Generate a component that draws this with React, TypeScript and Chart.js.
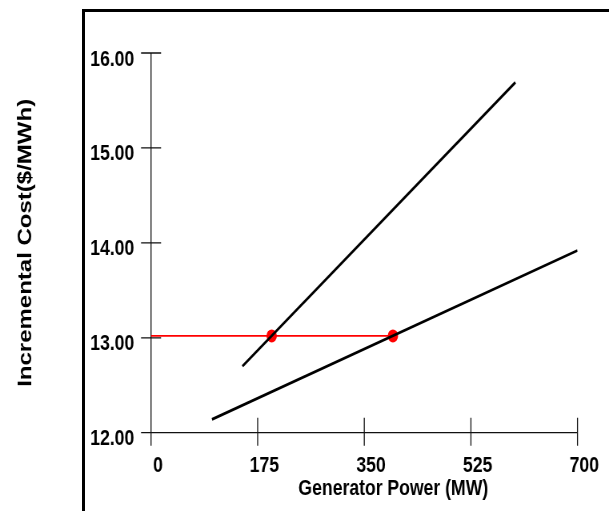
import React, { useEffect, useRef } from "react";
import { Chart, registerables } from "chart.js";

Chart.register(...registerables);

// ---- data ----
const xTickValues = [0, 175, 350, 525, 700];
const yTickValues = [12, 13, 14, 15, 16];
const unitA_MW = [150, 598];
const unitA_cost = [12.7, 15.69];
const unitB_MW = [100, 700];
const unitB_cost = [12.14, 13.92];
const lambdaCost = 13.02;
const dispatchMW = [0, 198, 397];
const dispatchCost = [lambdaCost, lambdaCost, lambdaCost];
const xTitle = "Generator Power (MW)";
const yTitle = "Incremental Cost($/MWh)";

// The reference is a horizontally compressed picture; draw on a wider canvas
// and let CSS squeeze it to 609px.
const SQUEEZE = 0.8;
const CANVAS_W = 761;
const CANVAS_H = 511;

const FONT = "'Liberation Sans', Arial, sans-serif";

const axesPlugin = {
  id: "crossAxes",
  beforeDatasetsDraw(chart: any) {
    const { ctx, scales } = chart;
    const x = scales.x;
    const y = scales.y;
    const x0 = x.getPixelForValue(xTickValues[0]);
    const yb = y.getPixelForValue(yTickValues[0]);
    const yt = y.getPixelForValue(yTickValues[yTickValues.length - 1]);
    const xr = x.getPixelForValue(xTickValues[xTickValues.length - 1]);
    ctx.save();
    ctx.strokeStyle = "#111";
    ctx.lineWidth = 1.3;
    ctx.beginPath();
    ctx.moveTo(x0, yt);
    ctx.lineTo(x0, yb + 13);
    for (const v of yTickValues) {
      const p = y.getPixelForValue(v);
      ctx.moveTo(x0 - 12.5, p);
      ctx.lineTo(x0 + 12.5, p);
    }
    ctx.moveTo(x0 - 12.5, yb);
    ctx.lineTo(xr, yb);
    for (const v of xTickValues) {
      const p = x.getPixelForValue(v);
      ctx.moveTo(p, yb - 15);
      ctx.lineTo(p, yb + 13);
    }
    ctx.stroke();
    ctx.restore();
  },
  afterDraw(chart: any) {
    const { ctx, chartArea } = chart;
    ctx.save();
    ctx.font = "bold 22px " + FONT;
    ctx.fillStyle = "#000";
    ctx.textAlign = "center";
    ctx.textBaseline = "alphabetic";
    ctx.fillText(
      xTitle,
      chartArea.left + (chartArea.right - chartArea.left) * 0.568,
      chartArea.bottom + 62
    );
    ctx.restore();
  },
};

export default function App() {
  const ref = useRef<HTMLCanvasElement | null>(null);

  useEffect(() => {
    if (!ref.current) return;
    const chart = new Chart(ref.current, {
      type: "line",
      data: {
        datasets: [
          {
            label: "Unit A",
            data: unitA_MW.map((m, i) => ({ x: m, y: unitA_cost[i] })),
            borderColor: "#000",
            borderWidth: 2.8,
            pointRadius: 0,
            fill: false,
          },
          {
            label: "Unit B",
            data: unitB_MW.map((m, i) => ({ x: m, y: unitB_cost[i] })),
            borderColor: "#000",
            borderWidth: 2.8,
            pointRadius: 0,
            fill: false,
          },
          {
            label: "Lambda",
            data: dispatchMW.map((m, i) => ({ x: m, y: dispatchCost[i] })),
            borderColor: "#ff0000",
            borderWidth: 1.6,
            pointRadius: [0, 6.5, 6.5],
            pointStyle: "circle",
            pointBorderWidth: 0,
            pointBackgroundColor: "#ff0000",
            pointBorderColor: "#ff0000",
            fill: false,
          },
        ],
      },
      options: {
        animation: false,
        responsive: false,
        devicePixelRatio: 1,
        layout: { padding: { top: 53, right: CANVAS_W - 577.3 / SQUEEZE, left: 0, bottom: 0 } },
        plugins: {
          legend: { display: false },
          tooltip: { enabled: false },
          title: { display: false },
        },
        scales: {
          x: {
            type: "linear",
            min: 0,
            max: 700,
            afterBuildTicks: (s: any) => {
              s.ticks = xTickValues.map((v) => ({ value: v }));
            },
            afterFit: (s: any) => {
              s.height = 78.3;
              s.paddingLeft = 0;
              s.paddingRight = 0;
            },
            grid: { display: false, drawTicks: false },
            border: { display: false },
            ticks: {
              color: "#000",
              padding: 20,
              labelOffset: 8.5,
              font: { family: FONT, size: 22, weight: "bold" },
              maxRotation: 0,
              autoSkip: false,
            },
          },
          y: {
            type: "linear",
            min: 12,
            max: 16,
            afterBuildTicks: (s: any) => {
              s.ticks = yTickValues.map((v) => ({ value: v }));
            },
            afterFit: (s: any) => {
              s.width = 151 / SQUEEZE;
              s.paddingTop = 0;
              s.paddingBottom = 0;
            },
            grid: { display: false, drawTicks: false },
            border: { display: false },
            ticks: {
              color: "#000",
              padding: 21,
              labelOffset: 6.5,
              font: { family: FONT, size: 22, weight: "bold" },
              callback: (v: any) => Number(v).toFixed(2),
              autoSkip: false,
            },
            title: {
              display: true,
              text: yTitle,
              color: "#000",
              font: { family: FONT, size: 24, weight: "bold" },
              padding: { top: 17.5, bottom: 0 },
            },
          },
        },
      },
      plugins: [axesPlugin],
    });
    return () => chart.destroy();
  }, []);

  return (
    <div
      style={{
        position: "fixed",
        left: 0,
        top: 0,
        width: 609,
        height: 511,
        overflow: "hidden",
        background: "#fff",
      }}
    >
      <canvas
        ref={ref}
        width={CANVAS_W}
        height={CANVAS_H}
        style={{ display: "block", width: "609px", height: "511px" }}
      />
      <div
        style={{
          position: "absolute",
          left: 82,
          top: 9,
          width: 800,
          height: 800,
          borderLeft: "3px solid #000",
          borderTop: "3px solid #000",
          pointerEvents: "none",
        }}
      />
    </div>
  );
}
